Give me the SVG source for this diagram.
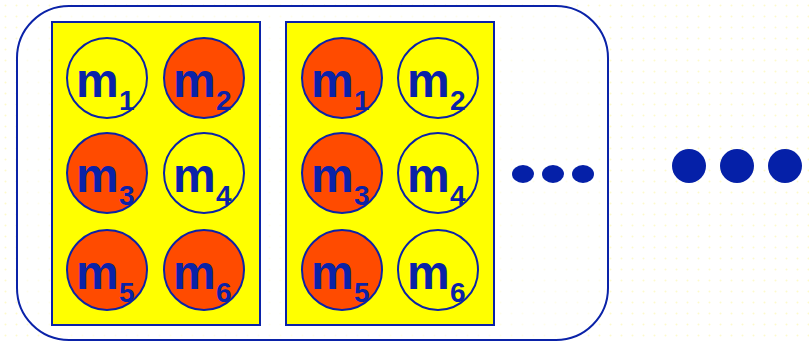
<svg xmlns="http://www.w3.org/2000/svg" width="809" height="343" viewBox="0 0 809 343">
<defs>
<pattern id="bgdots" x="0" y="0" width="11" height="11" patternUnits="userSpaceOnUse">
<circle cx="5.5" cy="5.5" r="1" fill="#fdf9cc"/>
</pattern>
<style>
.panel{fill:#ffff00;stroke:#0a22a8;stroke-width:2}
.on{fill:#ff4b00;stroke:#0a22a8;stroke-width:2}
.off{fill:#ffff00;stroke:#0a22a8;stroke-width:2}
.m{font-family:"Liberation Sans",Arial,sans-serif;font-weight:bold;font-size:48px;fill:#0a22a8}
.s{font-family:"Liberation Sans",Arial,sans-serif;font-weight:bold;font-size:28px;fill:#0a22a8}
.dot{fill:#0520a8}
</style>
</defs>
<rect width="809" height="343" fill="#ffffff"/>
<rect width="809" height="343" fill="url(#bgdots)"/>
<rect id="frame" x="17" y="6" width="591" height="334" rx="52" ry="52" fill="#ffffff" fill-opacity="0.6" stroke="#0a22a8" stroke-width="2"/>
<g id="panel1">
<rect class="panel" x="52" y="22" width="208" height="303"/>
<g id="p1m1"><circle class="off" cx="107" cy="78" r="40"/><text class="m" x="76" y="97">m</text><text class="s" x="119" y="110">1</text></g>
<g id="p1m2"><circle class="on" cx="204" cy="78" r="40"/><text class="m" x="173" y="97">m</text><text class="s" x="216" y="110">2</text></g>
<g id="p1m3"><circle class="on" cx="107" cy="173" r="40"/><text class="m" x="76" y="192">m</text><text class="s" x="119" y="205">3</text></g>
<g id="p1m4"><circle class="off" cx="204" cy="173" r="40"/><text class="m" x="173" y="192">m</text><text class="s" x="216" y="205">4</text></g>
<g id="p1m5"><circle class="on" cx="107" cy="270" r="40"/><text class="m" x="76" y="289">m</text><text class="s" x="119" y="302">5</text></g>
<g id="p1m6"><circle class="on" cx="204" cy="270" r="40"/><text class="m" x="173" y="289">m</text><text class="s" x="216" y="302">6</text></g>
</g>
<g id="panel2">
<rect class="panel" x="286" y="22" width="208" height="303"/>
<g id="p2m1"><circle class="on" cx="342" cy="78" r="40"/><text class="m" x="311" y="97">m</text><text class="s" x="354" y="110">1</text></g>
<g id="p2m2"><circle class="off" cx="438" cy="78" r="40"/><text class="m" x="407" y="97">m</text><text class="s" x="450" y="110">2</text></g>
<g id="p2m3"><circle class="on" cx="342" cy="173" r="40"/><text class="m" x="311" y="192">m</text><text class="s" x="354" y="205">3</text></g>
<g id="p2m4"><circle class="off" cx="438" cy="173" r="40"/><text class="m" x="407" y="192">m</text><text class="s" x="450" y="205">4</text></g>
<g id="p2m5"><circle class="on" cx="342" cy="270" r="40"/><text class="m" x="311" y="289">m</text><text class="s" x="354" y="302">5</text></g>
<g id="p2m6"><circle class="off" cx="438" cy="270" r="40"/><text class="m" x="407" y="289">m</text><text class="s" x="450" y="302">6</text></g>
</g>
<g id="smalldots">
<ellipse class="dot" cx="523" cy="174" rx="11" ry="9"/>
<ellipse class="dot" cx="553" cy="174" rx="11" ry="9"/>
<ellipse class="dot" cx="583" cy="174" rx="11" ry="9"/>
</g>
<g id="bigdots">
<circle class="dot" cx="689" cy="166" r="17"/>
<circle class="dot" cx="737" cy="166" r="17"/>
<circle class="dot" cx="785" cy="166" r="17"/>
</g>
<g id="connectors"/>
</svg>
